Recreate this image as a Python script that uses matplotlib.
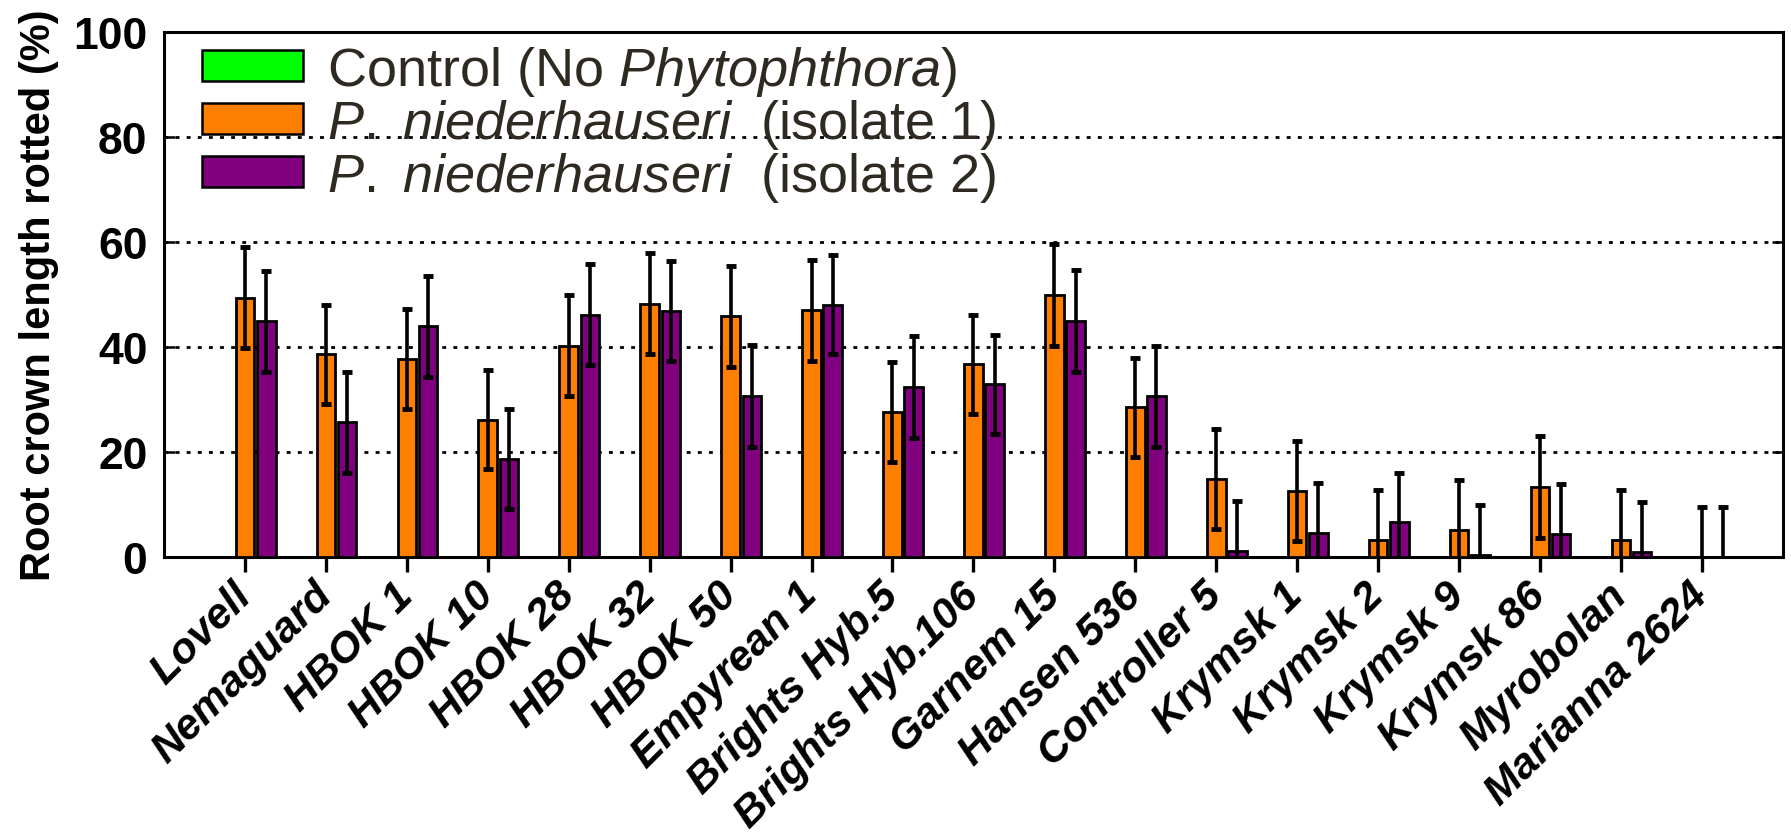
import matplotlib
matplotlib.use('Agg')
from matplotlib import pyplot as plt
from matplotlib.patches import Patch
import numpy as np

# rootstocks on the x axis
cultivars = ['Lovell', 'Nemaguard', 'HBOK 1', 'HBOK 10', 'HBOK 28', 'HBOK 32',
             'HBOK 50', 'Empyrean 1', 'Brights Hyb.5', 'Brights Hyb.106',
             'Garnem 15', 'Hansen 536', 'Controller 5', 'Krymsk 1', 'Krymsk 2',
             'Krymsk 9', 'Krymsk 86', 'Myrobolan', 'Marianna 2624']

# % root crown length rotted
control = [0, 0, 0, 0, 0, 0, 0, 0, 0, 0, 0, 0, 0, 0, 0, 0, 0, 0, 0]
iso1 = [49.4, 38.6, 37.8, 26.2, 40.3, 48.3, 45.9, 47.0, 27.6, 36.7,
        50.0, 28.5, 14.9, 12.6, 3.2, 5.2, 13.3, 3.2, 0.0]
iso1_err = [9.6, 9.5, 9.5, 9.5, 9.6, 9.6, 9.6, 9.6, 9.5, 9.5,
            9.7, 9.5, 9.5, 9.6, 9.5, 9.5, 9.7, 9.5, 9.5]
iso2 = [44.9, 25.7, 44.0, 18.7, 46.2, 46.9, 30.7, 48.1, 32.4, 32.9,
        45.0, 30.6, 1.1, 4.6, 6.6, 0.4, 4.3, 1.0, 0.0]
iso2_err = [9.7, 9.6, 9.6, 9.6, 9.6, 9.5, 9.7, 9.5, 9.8, 9.5,
            9.7, 9.7, 9.6, 9.6, 9.5, 9.6, 9.6, 9.5, 9.5]

legend_labels = ['Control (No $\\mathit{Phytophthora}$)',
                 '$\\mathit{P.}$ $\\mathit{niederhauseri}$  (isolate 1)',
                 '$\\mathit{P.}$ $\\mathit{niederhauseri}$  (isolate 2)']
colors = ['#00ff00', '#ff8000', '#800080']

plt.rcParams['font.family'] = ['Liberation Sans', 'DejaVu Sans']
plt.rcParams['mathtext.fontset'] = 'custom'
plt.rcParams['mathtext.rm'] = 'Liberation Sans'
plt.rcParams['mathtext.it'] = 'Liberation Sans:italic'

fig = plt.figure(figsize=(17.91, 8.37), dpi=100)
ax = fig.add_axes([0.0916, 0.3333, 0.9038, 0.6269])

x = np.arange(len(cultivars))
w = 0.23
off = 0.262
edge = dict(edgecolor='black', linewidth=2.0, zorder=3)
ax.bar(x - off, control, w, color=colors[0], **edge)
ax.bar(x, iso1, w, color=colors[1], **edge)
ax.bar(x + off, iso2, w, color=colors[2], **edge)
eb = dict(fmt='none', ecolor='black', elinewidth=2.6, capsize=3.8, capthick=3.5, zorder=4)
ax.errorbar(x, iso1, yerr=iso1_err, **eb)
ax.errorbar(x + off, iso2, yerr=iso2_err, **eb)

ax.set_xlim(-1.0, 19.0)
ax.set_ylim(0, 100)
ax.set_yticks([0, 20, 40, 60, 80, 100])
for v in [20, 40, 60, 80]:
    ax.axhline(v, color='black', lw=2.0, ls=(0, (1.4, 2.6)), zorder=1)

ax.set_xticks(x)
ax.set_xticklabels(cultivars, rotation=45, ha='right', va='center',
                   rotation_mode='anchor', fontsize=31, fontweight='bold',
                   fontstyle='italic')
ax.tick_params(axis='x', direction='out', length=11, width=2.4, pad=12)
ax.tick_params(axis='y', direction='in', length=8, width=1.8, right=True,
               labelsize=32, pad=12)
for lab in ax.get_yticklabels():
    lab.set_fontweight('bold')
for s in ax.spines.values():
    s.set_linewidth(2.2)

ax.set_ylabel('Root crown length rotted (%)', fontsize=30, fontweight='bold',
              labelpad=10)

handles = [Patch(facecolor=c, edgecolor='black', linewidth=1.8) for c in colors]
leg = ax.legend(handles, legend_labels, loc='upper left',
                bbox_to_anchor=(0.022, 0.983), frameon=False, borderaxespad=0,
                borderpad=0.05, handlelength=1.85, handleheight=0.5,
                handletextpad=0.45, labelspacing=-0.02,
                prop={'family': 'Liberation Sans', 'size': 39})
for t in leg.get_texts():
    t.set_color('#2e2a22')

plt.savefig('out.png', dpi=100)
